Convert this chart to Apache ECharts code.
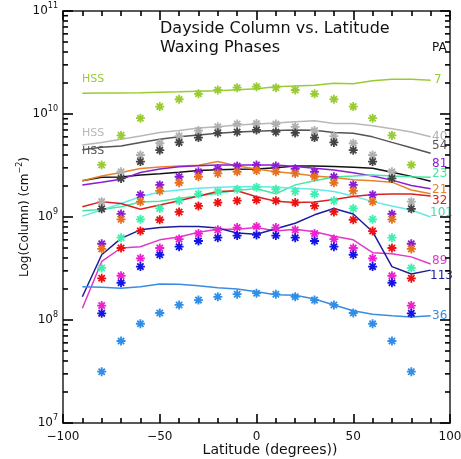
<!DOCTYPE html>
<html>
<head>
<meta charset="utf-8">
<script src="https://cdn.jsdelivr.net/npm/echarts@6/dist/echarts.min.js"></script>
<style>
  html, body { margin: 0; padding: 0; background: #fff; }
  #chart { width: 461px; height: 459px; }
</style>
</head>
<body>
<div id="chart"></div>
<script>
// latitudes of the model curves and of the measured points
const latLine = [-90, -80, -70, -60, -50, -40, -30, -20, -10, 0, 10, 20, 30, 40, 50, 60, 70, 80, 90]
const latMark = [-80, -70, -60, -50, -40, -30, -20, -10, 0, 10, 20, 30, 40, 50, 60, 70, 80]

// log minor tick values
const minorTicks = [
  2e7, 3e7, 4e7, 5e7, 6e7, 7e7, 8e7, 9e7,
  2e8, 3e8, 4e8, 5e8, 6e8, 7e8, 8e8, 9e8,
  2e9, 3e9, 4e9, 5e9, 6e9, 7e9, 8e9, 9e9,
  2e10, 3e10, 4e10, 5e10, 6e10, 7e10, 8e10, 9e10
]

// curves (one per phase angle)
const line7 = [1.59e10, 1.6e10, 1.6e10, 1.61e10, 1.63e10, 1.64e10, 1.66e10, 1.68e10, 1.72e10, 1.76e10, 1.84e10, 1.87e10, 1.9e10, 1.99e10, 1.97e10, 2.1e10, 2.17e10, 2.17e10, 2.13e10]
const line40 = [5.0e9, 5.3e9, 5.7e9, 6.1e9, 6.6e9, 6.9e9, 7.3e9, 7.5e9, 7.8e9, 8.0e9, 8.2e9, 8.4e9, 8.6e9, 8.1e9, 8.1e9, 7.7e9, 7.2e9, 6.7e9, 6.0e9]
const line54 = [4.5e9, 4.75e9, 4.9e9, 5.3e9, 5.7e9, 6.0e9, 6.25e9, 6.5e9, 6.7e9, 6.8e9, 6.9e9, 7.0e9, 6.95e9, 6.6e9, 6.5e9, 6.0e9, 5.3e9, 4.7e9, 4.15e9]
const line81 = [2.05e9, 2.18e9, 2.32e9, 2.7e9, 2.93e9, 3.08e9, 3.14e9, 3.2e9, 3.2e9, 3.2e9, 3.2e9, 3.1e9, 2.97e9, 2.86e9, 2.69e9, 2.5e9, 2.28e9, 2.02e9, 1.88e9]
const lineBlack = [2.25e9, 2.43e9, 2.45e9, 2.56e9, 2.63e9, 2.72e9, 2.83e9, 2.88e9, 2.91e9, 2.93e9, 3.0e9, 3.13e9, 3.13e9, 3.1e9, 3.04e9, 2.97e9, 2.72e9, 2.48e9, 2.22e9]
const line21 = [2.25e9, 2.5e9, 2.7e9, 2.95e9, 3.05e9, 3.13e9, 3.18e9, 3.45e9, 3.12e9, 2.92e9, 2.75e9, 2.65e9, 2.5e9, 2.42e9, 2.3e9, 2.25e9, 2.18e9, 1.83e9, 1.68e9]
const line23 = [1.15e9, 1.18e9, 1.26e9, 1.4e9, 1.42e9, 1.52e9, 1.6e9, 1.7e9, 1.82e9, 1.88e9, 1.68e9, 2.05e9, 2.25e9, 2.45e9, 2.5e9, 2.56e9, 2.5e9, 2.46e9, 2.43e9]
const line101 = [1.02e9, 1.17e9, 1.35e9, 1.57e9, 1.75e9, 1.83e9, 1.9e9, 1.94e9, 1.97e9, 1.98e9, 1.94e9, 1.9e9, 1.86e9, 1.77e9, 1.6e9, 1.41e9, 1.28e9, 1.17e9, 1.0e9]
const line32 = [1.26e9, 1.41e9, 1.35e9, 1.19e9, 1.31e9, 1.44e9, 1.6e9, 1.77e9, 1.8e9, 1.57e9, 1.42e9, 1.38e9, 1.4e9, 1.48e9, 1.58e9, 1.65e9, 1.67e9, 1.67e9, 1.6e9]
const line89 = [1.3e8, 3.7e8, 5.0e8, 5.15e8, 6.0e8, 6.4e8, 7.1e8, 7.6e8, 7.6e8, 7.9e8, 7.3e8, 7.6e8, 7.2e8, 6.5e8, 6.0e8, 4.5e8, 4.4e8, 4.1e8, 3.5e8]
const line113 = [1.68e8, 4.3e8, 6.2e8, 7.5e8, 7.9e8, 8.1e8, 8.1e8, 7.8e8, 7.0e8, 6.8e8, 7.7e8, 8.7e8, 1.05e9, 1.21e9, 1.07e9, 7.2e8, 3.3e8, 2.8e8, 3.05e8]
const line36 = [2.1e8, 2.08e8, 2.03e8, 2.1e8, 2.24e8, 2.22e8, 2.15e8, 2.06e8, 2.0e8, 1.88e8, 1.76e8, 1.74e8, 1.6e8, 1.4e8, 1.23e8, 1.14e8, 1.1e8, 1.07e8, 1.1e8]

// measured points
const pts7 = [3.2e9, 6.2e9, 9.1e9, 1.18e10, 1.39e10, 1.57e10, 1.71e10, 1.8e10, 1.84e10, 1.8e10, 1.71e10, 1.57e10, 1.39e10, 1.18e10, 9.1e9, 6.2e9, 3.2e9]
const pts40 = [1.41e9, 2.75e9, 4.0e9, 5.2e9, 6.1e9, 6.9e9, 7.5e9, 8.0e9, 8.1e9, 8.0e9, 7.5e9, 6.9e9, 6.1e9, 5.2e9, 4.0e9, 2.75e9, 1.41e9]
const pts54 = [1.2e9, 2.37e9, 3.45e9, 4.45e9, 5.3e9, 5.9e9, 6.55e9, 6.7e9, 7.0e9, 6.7e9, 6.55e9, 5.9e9, 5.3e9, 4.45e9, 3.45e9, 2.37e9, 1.2e9]
const pts81 = [5.5e8, 1.07e9, 1.64e9, 2.05e9, 2.46e9, 2.75e9, 2.94e9, 3.13e9, 3.2e9, 3.13e9, 2.94e9, 2.75e9, 2.46e9, 2.05e9, 1.64e9, 1.07e9, 5.5e8]
const pts21 = [4.9e8, 9.5e8, 1.41e9, 1.79e9, 2.15e9, 2.46e9, 2.65e9, 2.75e9, 2.82e9, 2.75e9, 2.65e9, 2.46e9, 2.15e9, 1.79e9, 1.41e9, 9.5e8, 4.9e8]
const pts23 = [3.2e8, 6.3e8, 9.5e8, 1.21e9, 1.44e9, 1.67e9, 1.77e9, 1.86e9, 1.94e9, 1.86e9, 1.77e9, 1.67e9, 1.44e9, 1.21e9, 9.5e8, 6.3e8, 3.2e8]
const pts32 = [2.54e8, 5.0e8, 7.3e8, 9.4e8, 1.12e9, 1.28e9, 1.38e9, 1.44e9, 1.46e9, 1.44e9, 1.38e9, 1.28e9, 1.12e9, 9.4e8, 7.3e8, 5.0e8, 2.54e8]
const pts89 = [1.38e8, 2.69e8, 3.97e8, 5.0e8, 6.1e8, 6.9e8, 7.5e8, 7.9e8, 8.1e8, 7.9e8, 7.5e8, 6.9e8, 6.1e8, 5.0e8, 3.97e8, 2.69e8, 1.38e8]
const pts113 = [1.16e8, 2.3e8, 3.3e8, 4.3e8, 5.15e8, 5.85e8, 6.3e8, 6.6e8, 6.7e8, 6.6e8, 6.3e8, 5.85e8, 5.15e8, 4.3e8, 3.3e8, 2.3e8, 1.16e8]
const pts36 = [3.15e7, 6.25e7, 9.2e7, 1.17e8, 1.4e8, 1.56e8, 1.68e8, 1.78e8, 1.82e8, 1.78e8, 1.68e8, 1.56e8, 1.4e8, 1.17e8, 9.2e7, 6.25e7, 3.15e7]

const FONT = 'DejaVu Sans'
const AXIS = '#000'
const STAR = 'path://M4,0L4,8M0,4L8,4M1.2,1.2L6.8,6.8M1.2,6.8L6.8,1.2'

const chart = echarts.init(document.getElementById('chart'))

function curve(vals, color) {
  return {
    type: 'line',
    data: latLine.map((x, i) => [x, vals[i]]),
    showSymbol: false,
    silent: true,
    z: 2,
    lineStyle: { color: color, width: 1.5 }
  }
}

function points(vals, color) {
  return {
    type: 'scatter',
    data: latMark.map((x, i) => [x, vals[i]]),
    symbol: STAR,
    symbolSize: 9,
    silent: true,
    z: 3,
    itemStyle: { color: color, borderColor: color, borderWidth: 1.8, opacity: 1 }
  }
}

function label(text, x, y, color, size) {
  return {
    type: 'text', x: x, y: y,
    style: { text: text, fill: color, font: (size || 12) + 'px ' + FONT, verticalAlign: 'middle' }
  }
}

const xAxisBase = {
  type: 'value', min: -100, max: 100, interval: 50,
  axisLine: { show: true, onZero: false, lineStyle: { color: '#222', width: 1.5 } },
  axisTick: { show: true, inside: true, length: 9, lineStyle: { color: AXIS, width: 1.6 } },
  minorTick: { show: true, splitNumber: 5, length: 5, lineStyle: { color: AXIS, width: 1.6 } },
  splitLine: { show: false }
}
const yAxisBase = {
  type: 'log', logBase: 10, min: 1e7, max: 1e11,
  axisLine: { show: true, onZero: false, lineStyle: { color: '#222', width: 1.5 } },
  axisTick: { show: true, inside: true, length: 10, lineStyle: { color: AXIS, width: 1.6 } },
  splitLine: { show: false }
}

const option = {
  animation: false,
  backgroundColor: '#fff',
  grid: { left: 63, right: 11, top: 11, bottom: 36, outerBoundsMode: 'none' },
  xAxis: [
    Object.assign({}, xAxisBase, {
      position: 'bottom',
      axisLabel: {
        color: '#111', fontFamily: FONT, fontSize: 12, margin: 8,
        formatter: v => (v < 0 ? '\u2212' + (-v) : String(v))
      }
    }),
    Object.assign({}, xAxisBase, { position: 'top', axisLabel: { show: false } })
  ],
  yAxis: [
    Object.assign({}, yAxisBase, {
      position: 'left',
      axisLabel: {
        margin: 5,
        formatter: v => '{b|10}{s|' + Math.round(Math.log10(v)) + '}',
        rich: {
          b: { fontFamily: FONT, fontSize: 12, color: '#111', lineHeight: 18 },
          s: { fontFamily: FONT, fontSize: 8, color: '#111', verticalAlign: 'top' }
        }
      }
    }),
    Object.assign({}, yAxisBase, { position: 'right', axisLabel: { show: false } })
  ],
  graphic: [
    label('Dayside Column vs. Latitude', 160, 29, '#111', 16),
    label('Waxing Phases', 160, 48, '#111', 16),
    label('PA', 432, 48, '#111', 12),
    label('HSS', 82, 79, '#99cc33', 11),
    label('HSS', 82, 133, '#b8b8b8', 11),
    label('HSS', 82, 151, '#555', 11),
    label('7', 434, 80, '#99cc33', 12),
    label('40', 432, 137, '#b0b0b0', 12),
    label('54', 432, 146, '#555', 12),
    label('81', 432, 164, '#8c1cd4', 12),
    label('23', 432, 174, '#44e8a0', 12),
    label('21', 432, 190, '#e8832a', 12),
    label('32', 432, 201, '#dc2020', 12),
    label('101', 430, 213, '#44e0a8', 12),
    label('89', 432, 261, '#e038c8', 12),
    label('113', 430, 276, '#1c1c9c', 12),
    label('36', 432, 316, '#3a8ce0', 12),
    {
      type: 'text', x: 270, y: 450,
      style: { text: 'Latitude (degrees))', fill: '#111', font: '14px ' + FONT, align: 'center', verticalAlign: 'middle' }
    },
    {
      type: 'text', x: 25, y: 217, rotation: Math.PI / 2,
      style: {
        text: '{a|Log(Column) (cm}{s|\u22122}{a|)}',
        align: 'center', verticalAlign: 'middle',
        rich: {
          a: { fontFamily: FONT, fontSize: 12, fill: '#111', lineHeight: 18 },
          s: { fontFamily: FONT, fontSize: 8, fill: '#111', verticalAlign: 'top' }
        }
      }
    }
  ],
  series: [
    {
      // log minor ticks on the left and right frame
      type: 'custom',
      silent: true,
      clip: false,
      z: 5,
      data: minorTicks.map(v => [0, v]),
      renderItem: function (params, api) {
        const v = api.value(1)
        const l = api.coord([-100, v])
        const r = api.coord([100, v])
        return {
          type: 'group',
          children: [
            { type: 'line', shape: { x1: l[0], y1: l[1], x2: l[0] + 5, y2: l[1] }, style: { stroke: AXIS, lineWidth: 1.6 } },
            { type: 'line', shape: { x1: r[0], y1: r[1], x2: r[0] - 5, y2: r[1] }, style: { stroke: AXIS, lineWidth: 1.6 } }
          ]
        }
      }
    },
    curve(line7, '#99cc33'),
    curve(line40, '#b8b8b8'),
    curve(line54, '#555555'),
    curve(lineBlack, '#111111'),
    curve(line21, '#e8832a'),
    curve(line81, '#8c1cd4'),
    curve(line23, '#44e8a0'),
    curve(line101, '#66e8e8'),
    curve(line32, '#dc2020'),
    curve(line89, '#e038c8'),
    curve(line113, '#1c1c9c'),
    curve(line36, '#3a8ce0'),
    points(pts7, '#99cc33'),
    points(pts40, '#b0b0b0'),
    points(pts54, '#444444'),
    points(pts81, '#8c1cd4'),
    points(pts21, '#e8701c'),
    points(pts23, '#40f0b0'),
    points(pts32, '#ee1111'),
    points(pts89, '#f020d0'),
    points(pts113, '#1414e6'),
    points(pts36, '#2f8ee8')
  ]
}

chart.setOption(option)
</script>
</body>
</html>
